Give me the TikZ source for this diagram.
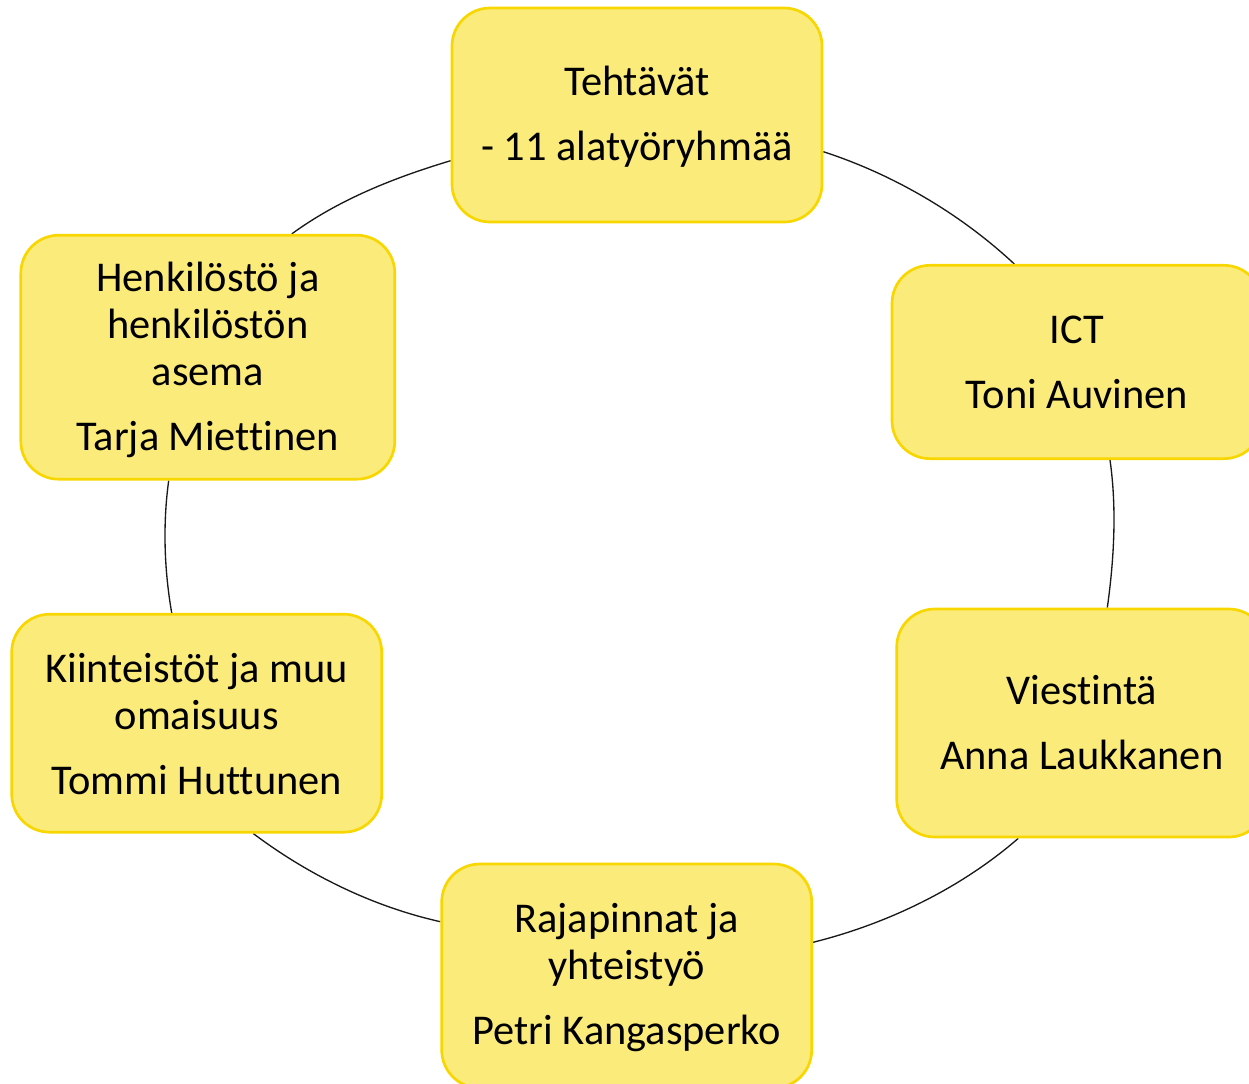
\documentclass[tikz,border=0pt]{standalone}
\usepackage{fontspec}
\setmainfont{Carlito}[Ligatures=NoCommon]
\usetikzlibrary{calc,backgrounds}
\definecolor{boxfill}{RGB}{251,235,122}
\definecolor{boxline}{RGB}{248,215,0}
\tikzset{
  cyclebox/.style={draw=boxline, fill=boxfill, line width=2pt, rounded corners=28.5pt,
    inner sep=0pt},
  boxtext/.style={align=center, inner sep=0pt, text=black,
    font=\fontsize{31.8}{35.25}\selectfont},
  cyclearc/.style={draw=black!90, line width=1pt}
}
\begin{document}
\begin{tikzpicture}[x=0.75pt,y=-0.75pt]
\useasboundingbox (0,0) rectangle (1249,1084);
\node[cyclebox, minimum width=277.5pt, minimum height=160.5pt] (top) at (637,115) {};
\node[cyclebox, minimum width=277.5pt, minimum height=145pt] (ict) at (1077,362) {};
\node[cyclebox, minimum width=277.5pt, minimum height=171pt] (vie) at (1081.7,723) {};
\node[cyclebox, minimum width=277.5pt, minimum height=168pt] (bot) at (626.7,976) {};
\node[cyclebox, minimum width=277.5pt, minimum height=163.5pt] (kii) at (196.7,723.2) {};
\node[cyclebox, minimum width=280.5pt, minimum height=183pt] (henk) at (207.8,357.2) {};
\node[boxtext] (toptext) at ($(top.center)+(0,2)$) {Tehtävät\\[13.5pt]- 11 alatyöryhmää};
\node[boxtext] (icttext) at ($(ict.center)+(0,0)$) {ICT\\[13.5pt]Toni Auvinen};
\node[boxtext] (vietext) at ($(vie.center)+(0,0)$) {Viestintä\\[13.5pt]Anna Laukkanen};
\node[boxtext] (bottext) at ($(bot.center)+(0,2)$) {Rajapinnat ja\\yhteistyö\\[13.5pt]Petri Kangasperko};
\node[boxtext] (kiitext) at ($(kii.center)+(0,0.5)$) {Kiinteistöt ja muu\\omaisuus\\[13.5pt]Tommi Huttunen};
\node[boxtext] (henktext) at ($(henk.center)+(0,2.5)$) {Henkilöstö ja\\henkilöstön\\asema\\[13.5pt]Tarja Miettinen};
\begin{scope}[on background layer]
\draw[cyclearc] ($(henk.north)+(84,0)$) .. controls +(47.3,-34.5) and +(-56,16.8) .. ($(top.west)+(0,45.7)$);
\draw[cyclearc] ($(top.east)+(0,36.7)$) .. controls +(70.1,22.8) and +(-53.9,-50.3) .. ($(ict.north)+(-62.7,0)$);
\draw[cyclearc] ($(ict.south)+(33,0)$) .. controls +(6.9,48.6) and +(6.8,-48.6) .. ($(vie.north)+(25.6,0)$);
\draw[cyclearc] ($(vie.south)+(-63.4,0)$) .. controls +(-57.8,50.2) and +(74.2,-18.5) .. ($(bot.east)+(0,-33.7)$);
\draw[cyclearc] ($(bot.west)+(0,-54.3)$) .. controls +(-67.3,-15.1) and +(55.1,41.5) .. ($(kii.south)+(56.6,0)$);
\draw[cyclearc] ($(kii.north)+(-25,0)$) .. controls +(-7.5,-43.3) and +(-6,43.6) .. ($(henk.south)+(-39.1,0)$);
\end{scope}
\end{tikzpicture}
\end{document}
